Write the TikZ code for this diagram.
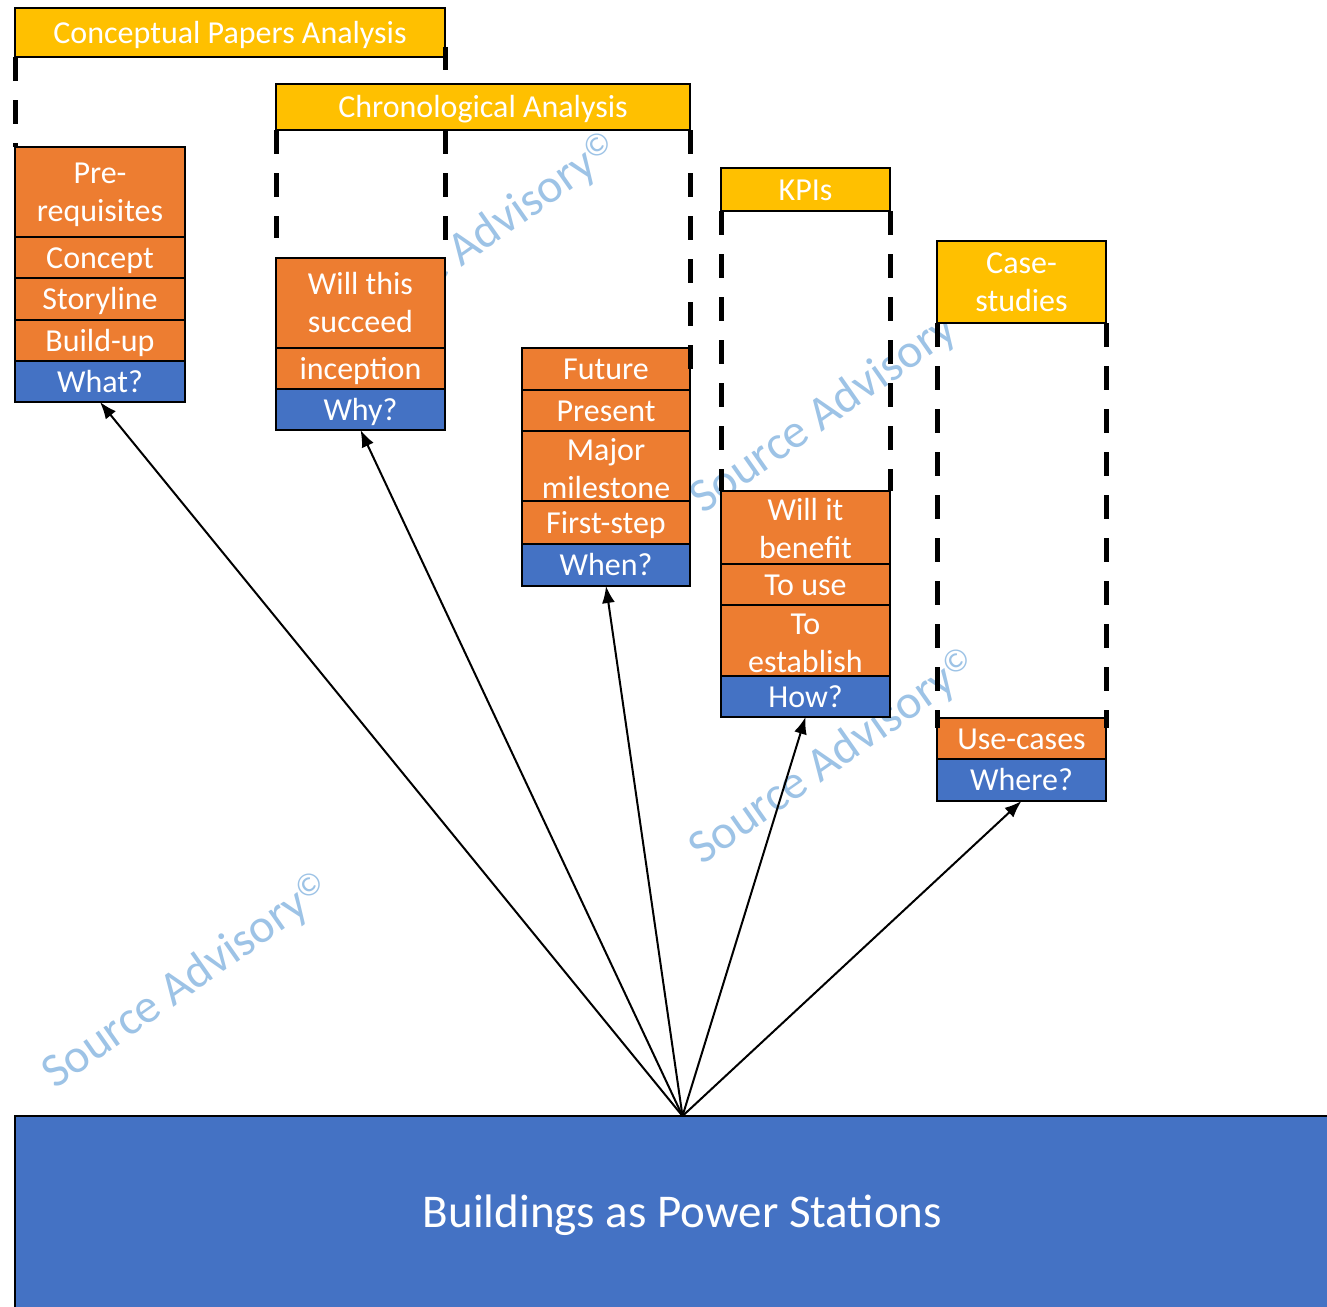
\documentclass[tikz,border=0pt]{standalone}
\usepackage{fontspec}
\setmainfont{Carlito}
\usetikzlibrary{arrows.meta,calc}
\definecolor{yel}{HTML}{FFC000}
\definecolor{org}{HTML}{ED7D31}
\definecolor{blu}{HTML}{4472C4}
\definecolor{wmc}{HTML}{9DC3E6}
\newcommand{\boxfnt}{\fontsize{32}{38}\selectfont}
\newcommand{\wmfnt}{\fontsize{48}{52}\selectfont}
\newcommand{\wmtxt}{Source Advisory{\fontsize{32}{32}\selectfont\raisebox{11pt}{©}}}
\newcommand{\tx}[1]{\raisebox{-3pt}[\height][\depth]{\begin{tabular}{@{}c@{}}#1\end{tabular}}}
\tikzset{
  box/.style={draw=black, line width=2.5pt, outer sep=0pt, inner sep=0pt,
    anchor=north west, text=white, font=\boxfnt},
  ybox/.style={box, fill=yel},
  obox/.style={box, fill=org},
  bbox/.style={box, fill=blu},
  dline/.style={line width=5pt, dash pattern=on 24pt off 19pt},
  arr/.style={line width=2pt, -{Latex[length=17pt,width=13pt]}},
  wm/.style={text=wmc, font=\wmfnt, rotate=35, inner sep=0pt}
}
\begin{document}
\begin{tikzpicture}[x=1pt,y=-1pt]
\useasboundingbox (0,0) rectangle (1327,1306);
\fill[white] (0,0) rectangle (1327,1306);

% watermarks (behind everything)
\node[wm] (wm1) at (187,982) {\wmtxt};
\node[wm] (wm2) at (475,242) {\wmtxt};
\node[wm] (wm3) at (835,407) {\wmtxt};
\node[wm] (wm4) at (834,758) {\wmtxt};

% big box
\begin{scope}
\clip (0,0) rectangle (1327,1306);
\node[bbox, minimum width=1335pt, minimum height=196pt, font=\fontsize{47}{54}\selectfont]
  (big) at (15,1116) {\raisebox{-1pt}[\height][\depth]{Buildings as Power Stations}};
\end{scope}

% column 1
\node[ybox, minimum width=430pt, minimum height=49pt] (conc) at (15,8) {\tx{Conceptual Papers Analysis}};
\node[obox, minimum width=170pt, minimum height=90pt] (pre) at (15,147) {\tx{Pre-\\requisites}};
\node[obox, minimum width=170pt, minimum height=41pt] (concept) at (15,237) {\tx{Concept}};
\node[obox, minimum width=170pt, minimum height=42pt] (story) at (15,278) {\tx{Storyline}};
\node[obox, minimum width=170pt, minimum height=41pt] (build) at (15,320) {\tx{Build-up}};
\node[bbox, minimum width=170pt, minimum height=41pt] (what) at (15,361) {\tx{What?}};

% column 2
\node[ybox, minimum width=414pt, minimum height=46pt] (chrono) at (276,84) {\tx{Chronological Analysis}};
\node[obox, minimum width=169pt, minimum height=90pt] (will) at (276,258) {\tx{Will this\\succeed}};
\node[obox, minimum width=169pt, minimum height=41pt] (incep) at (276,348) {\tx{inception}};
\node[bbox, minimum width=169pt, minimum height=41pt] (why) at (276,389) {\tx{Why?}};

% column 3
\node[obox, minimum width=168pt, minimum height=42pt] (future) at (522,348) {\tx{Future}};
\node[obox, minimum width=168pt, minimum height=41pt] (present) at (522,390) {\tx{Present}};
\node[obox, minimum width=168pt, minimum height=70pt] (major) at (522,431) {\tx{Major\\milestone}};
\node[obox, minimum width=168pt, minimum height=43pt] (first) at (522,501) {\tx{First-step}};
\node[bbox, minimum width=168pt, minimum height=42pt] (when) at (522,544) {\tx{When?}};

% column 4
\node[ybox, minimum width=169pt, minimum height=43pt] (kpi) at (721,168) {\tx{KPIs}};
\node[obox, minimum width=169pt, minimum height=73pt] (benefit) at (721,491) {\tx{Will it\\benefit}};
\node[obox, minimum width=169pt, minimum height=41pt] (touse) at (721,564) {\tx{To use}};
\node[obox, minimum width=169pt, minimum height=71pt] (toest) at (721,605) {\tx{To\\establish}};
\node[bbox, minimum width=169pt, minimum height=41pt] (how) at (721,676) {\tx{How?}};

% column 5
\node[ybox, minimum width=169pt, minimum height=82pt] (case) at (937,241) {\tx{Case-\\studies}};
\node[obox, minimum width=169pt, minimum height=41pt] (use) at (937,718) {\tx{Use-cases}};
\node[bbox, minimum width=169pt, minimum height=42pt] (where) at (937,759) {\tx{Where?}};

% dashed connectors
\draw[dline] (conc.south west) -- (pre.north west);
\draw[dline, dash pattern=] ($(conc.south east)+(0,-10)$) -- ($(conc.south east)+(0,13)$);
\draw[dline] (chrono.south west) -- ($(chrono.south west)+(0,108)$);
\draw[dline] (chrono.south -| will.north east) -- ($(will.north east)+(0,-17)$);
\draw[dline] (chrono.south east) -- ($(future.north east)+(0,21)$);
\draw[dline] (kpi.south west) -- (benefit.north west);
\draw[dline] (kpi.south east) -- (benefit.north east);
\draw[dline] (case.south west) -- ($(use.north west)+(0,10)$);
\draw[dline] (case.south east) -- ($(use.north east)+(0,10)$);

% arrows
\draw[arr] (big.north) -- (what.south);
\draw[arr] (big.north) -- (why.south);
\draw[arr] (big.north) -- (when.south);
\draw[arr] (big.north) -- (how.south);
\draw[arr] (big.north) -- (where.south);
\end{tikzpicture}
\end{document}
